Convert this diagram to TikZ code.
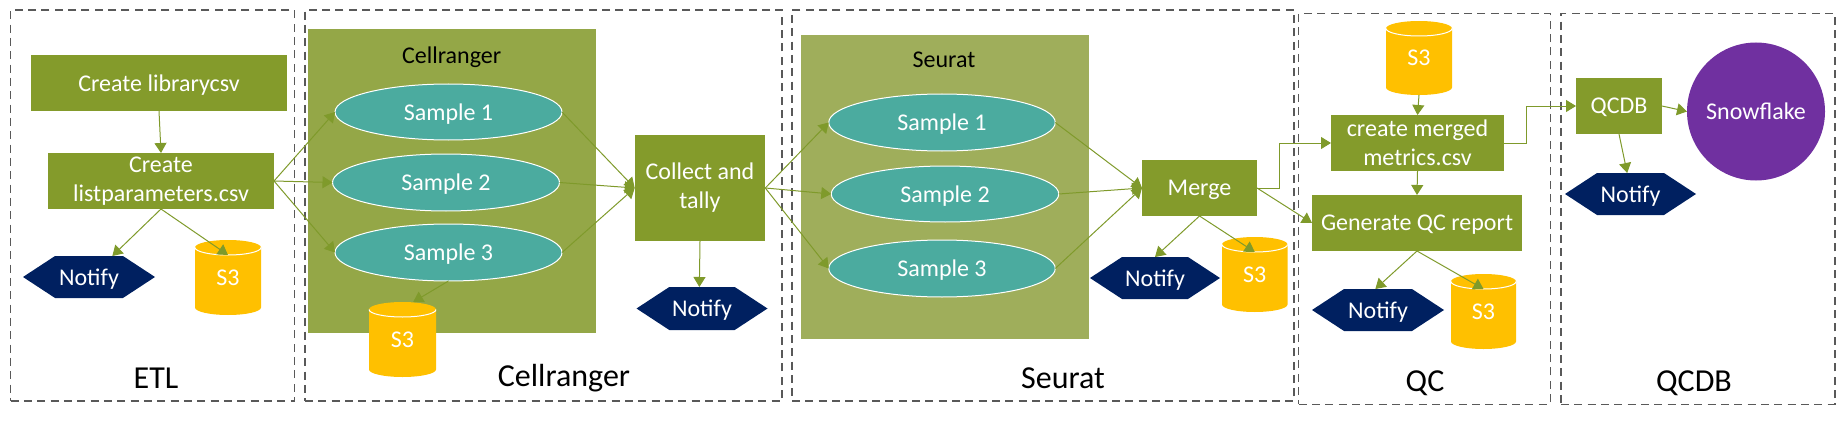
\documentclass[tikz,border=0pt]{standalone}
\usepackage{fontspec}
\setmainfont{Carlito}
\usetikzlibrary{arrows.meta,shapes.geometric,shapes.symbols}
\definecolor{olivebox}{HTML}{849B2B}
\definecolor{cellbg}{HTML}{94A747}
\definecolor{seubg}{HTML}{9FAE5B}
\definecolor{teal}{HTML}{4BAB9F}
\definecolor{navy}{HTML}{002060}
\definecolor{gold}{HTML}{FFC000}
\definecolor{purp}{HTML}{7030A0}
\definecolor{conn}{HTML}{7F9A2B}
\definecolor{dashc}{HTML}{595959}
\tikzset{
  sz/.style 2 args={minimum width=#1*0.75pt,minimum height=#2*0.75pt},
  base/.style={inner sep=0pt,outer sep=0pt,align=center,font=\fontsize{18}{21.75}\selectfont},
  oneline/.style={text depth=0pt},
  procbox/.style={base,rectangle,fill=olivebox,text=white},
  groupbg/.style={base,rectangle},
  sampleell/.style={base,oneline,ellipse,fill=teal,draw=white,line width=0.75pt,text=white},
  notifyhex/.style={base,oneline,signal,signal to=east and west,signal pointer angle=66.5,fill=navy,text=white},
  framebox/.style={base,rectangle,draw=dashc,line width=0.8pt,dash pattern=on 6pt off 4pt},
  biglabel/.style={base,font=\fontsize{24}{28}\selectfont,text=black},
  smalllabel/.style={base,text=black},
  conline/.style={draw=conn,line width=0.75pt,-{Triangle[length=7.5pt,width=9pt]}},
}
% name, left, top, right, bottom (pixels of the reference)
\newcommand{\sthree}[5]{%
  \pgfmathsetmacro{\sthc}{(#2+#4)/2}%
  \pgfmathsetmacro{\sthm}{(#3+#5)/2}%
  \pgfmathsetmacro{\sthr}{(#4-#2)/2}%
  \pgfmathsetmacro{\stht}{-(#3+7.5)}%
  \pgfmathsetmacro{\sthb}{-(#5-7.5)}%
  \pgfmathsetmacro{\sthl}{-(#3+15)}%
  \fill[gold] (#2,\stht) arc[start angle=180,end angle=0,x radius=\sthr,y radius=7.5]
    -- (#4,\sthb) arc[start angle=0,end angle=-180,x radius=\sthr,y radius=7.5] -- cycle;
  \draw[white,line width=0.75pt] (#2,\stht) arc[start angle=180,end angle=360,x radius=\sthr,y radius=7.5];
  \node[base,text=white,sz={(#4-#2)}{(#5-#3)}] (#1) at (\sthc,-\sthm) {S3};
  \coordinate (#1lip) at (\sthc,\sthl);
}
\begin{document}
\begin{tikzpicture}[x=0.75pt,y=0.75pt]
\useasboundingbox (0,-428) rectangle (1845,0);
% frames
\node[framebox,sz={283.9}{391}] (fetl) at (152.6,-205.5) {};
\node[framebox,sz={477}{391}] (fcell) at (543.5,-205.5) {};
\node[framebox,sz={502}{391}] (fseu) at (1043,-205.5) {};
\node[framebox,sz={251.3}{390.5}] (fqc) at (1424.4,-208.8) {};
\node[framebox,sz={274}{390.5}] (fqcdb) at (1698,-208.8) {};
\node[biglabel] (letl) at (156,-378) {ETL};
\node[biglabel] (lcell) at (564,-378) {Cellranger};
\node[biglabel] (lseu) at (1063,-378) {Seurat};
\node[biglabel] (lqc) at (1425,-383) {QC};
\node[biglabel] (lqcdb) at (1694,-383) {QCDB};
% ETL
\node[procbox,oneline,sz={256}{56}] (lib) at (159,-83) {Create librarycsv};
\node[procbox,sz={226}{56}] (lp) at (161,-181) {Create\\listparameters.csv};
\node[notifyhex,sz={132}{42}] (n1) at (89,-277) {Notify};
\sthree{sa}{195}{240}{261}{315}
% Cellranger
\node[groupbg,fill=cellbg,sz={288.4}{304}] (gc) at (451.8,-181) {};
\node[smalllabel,oneline] (tc) at (451.6,-55) {Cellranger};
\node[sampleell,sz={227}{56}] (c1) at (448.5,-112) {Sample 1};
\node[sampleell,sz={227}{57}] (c2) at (446,-182.5) {Sample 2};
\node[sampleell,sz={227}{57}] (c3) at (448.5,-252.5) {Sample 3};
\sthree{sb}{369}{302}{436}{377}
\node[procbox,sz={130.6}{106}] (col) at (700,-188) {Collect and\\tally};
\node[notifyhex,sz={131}{43}] (n2) at (702,-308.5) {Notify};
% Seurat
\node[groupbg,fill=seubg,sz={288}{304}] (gs) at (945,-187) {};
\node[smalllabel] (ts) at (944,-60) {Seurat};
\node[sampleell,sz={226.5}{57}] (s1) at (942,-122.5) {Sample 1};
\node[sampleell,sz={227.5}{56}] (s2) at (945,-194) {Sample 2};
\node[sampleell,sz={226.5}{57}] (s3) at (942,-268.5) {Sample 3};
\node[procbox,oneline,sz={115}{56}] (mer) at (1199.5,-188) {Merge};
\node[notifyhex,sz={130}{42}] (n3) at (1155,-278) {Notify};
\sthree{sc}{1222}{237}{1287.5}{312}
% QC
\sthree{sd}{1386}{21}{1452}{95}
\node[procbox,sz={173}{56}] (met) at (1417.5,-143) {create merged\\metrics.csv};
\node[procbox,oneline,sz={210}{56}] (gen) at (1417,-223) {Generate QC report};
\node[notifyhex,sz={132}{42}] (n4) at (1378,-310) {Notify};
\sthree{se}{1451}{274}{1516}{349}
% QCDB
\node[procbox,oneline,sz={86}{56}] (qd) at (1619,-106) {QCDB};
\node[base,circle,fill=purp,text=white,minimum size=138*0.75pt] (sn) at (1756,-111.5) {Snowflake};
\node[notifyhex,sz={131}{42}] (n5) at (1630.5,-194) {Notify};
% connectors
\draw[conline] (lib.south) -- (lp.north);
\draw[conline] (lp.east) -- (c1.west);
\draw[conline] (lp.east) -- (c2.west);
\draw[conline] (lp.east) -- (c3.west);
\draw[conline] (lp.south) -- ([xshift=17.5pt]n1.north);
\draw[conline] (lp.south) -- (salip);
\draw[conline] (c1.east) -- (col.west);
\draw[conline] (c2.east) -- (col.west);
\draw[conline] (c3.east) -- (col.west);
\draw[conline] (c3.south) -- ([xshift=8pt]sb.north);
\draw[conline] (col.south) -- ([xshift=-2pt]n2.north);
\draw[conline] (col.east) -- (s1.west);
\draw[conline] (col.east) -- (s2.west);
\draw[conline] (col.east) -- (s3.west);
\draw[conline] (s1.east) -- (mer.west);
\draw[conline] (s2.east) -- (mer.west);
\draw[conline] (s3.east) -- (mer.west);
\draw[conline] (mer.south) -- (n3.north);
\draw[conline] (mer.south) -- (sclip);
\draw[conline] (mer.east) -- ++(22.5,0) |- (met.west);
\draw[conline] (mer.east) -- (gen.west);
\draw[conline] (sd.south) -- (met.north);
\draw[conline] (met.south) -- (gen.north);
\draw[conline] (met.east) -- ++(22.5,0) |- (qd.west);
\draw[conline] (gen.south) -- ([xshift=-2pt]n4.north);
\draw[conline] (gen.south) -- (selip);
\draw[conline] (qd.east) -- (sn.west);
\draw[conline] (qd.south) -- ([xshift=-2.5pt]n5.north);
\end{tikzpicture}
\end{document}
